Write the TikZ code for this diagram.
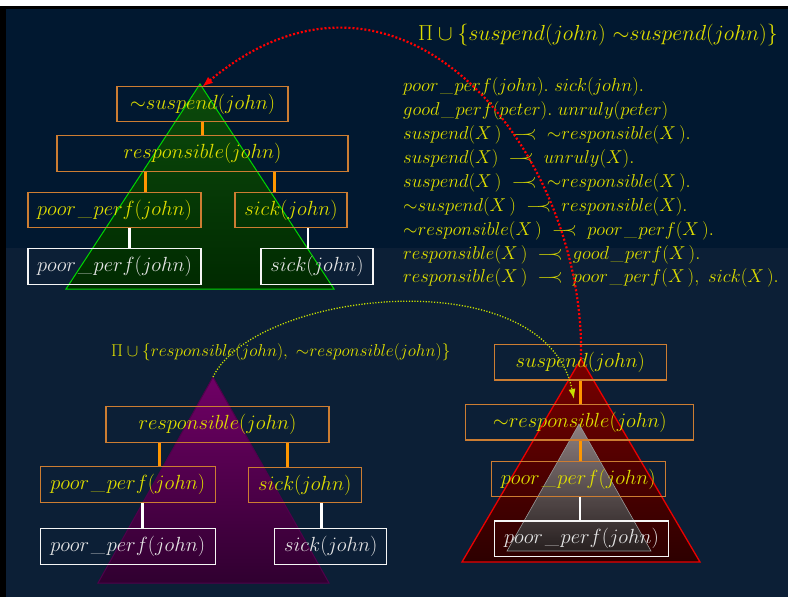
\RequirePackage{fix-cm}
\documentclass[tikz,border=0pt]{standalone}
\usetikzlibrary{arrows.meta}

\definecolor{bgtop}{RGB}{1,24,48}
\definecolor{bgbot}{RGB}{12,31,54}
\definecolor{txtyellow}{RGB}{222,222,0}
\definecolor{boxorange}{RGB}{205,125,50}
\definecolor{linkorange}{RGB}{255,150,0}
\definecolor{txtwhite}{RGB}{228,228,228}
\definecolor{arcgreen}{RGB}{200,225,0}

\newcommand{\defrule}{\;\mathrel{-\!\!\!\prec}\;}
\newcommand{\litneg}{{\sim}}
\newcommand{\usc}{\mkern1.5mu\_\mkern1.5mu}

\begin{document}
\begin{tikzpicture}[x=1pt,y=-1pt,
  argbox/.style={draw=boxorange, line width=1.2pt, text=txtyellow, inner sep=0pt,
    minimum height=35.5pt, font=\fontsize{20.5}{24}\selectfont},
  litbox/.style={draw=white!92!gray, line width=1.2pt, text=txtwhite, inner sep=0pt,
    minimum height=35.5pt, font=\fontsize{20.5}{24}\selectfont},
  supp/.style={linkorange, line width=3pt},
  lit/.style={white, line width=2.5pt},
  ruleline/.style={anchor=base west, inner sep=0pt, text=txtyellow,
    font=\fontsize{18.6}{22}\selectfont},
  defeat/.style={dash pattern=on 2pt off 2pt, line width=2.2pt}]

% page and background bands
\useasboundingbox (0,0) rectangle (788,597);
\fill[white] (0,0) rectangle (788,597);
\fill[black] (0,6) rectangle (788,597);
\fill[bgtop] (6,9) rectangle (788,248);
\fill[bgbot] (6,248) rectangle (788,597);

% apexes of the argument triangles
\coordinate (gapex) at (200,84);
\coordinate (papex) at (213,377);
\coordinate (rapex) at (581,359);
\coordinate (hit) at (574,399);

% argument triangles
\path[draw={rgb,255:red,0;green,215;blue,0}, line width=1pt,
  top color={rgb,255:red,12;green,74;blue,12}, bottom color={rgb,255:red,0;green,42;blue,0}]
  (gapex) -- (66,289) -- (334,289) -- cycle;
\path[draw={rgb,255:red,80;green,0;blue,75}, line width=1pt,
  top color={rgb,255:red,112;green,0;blue,102}, bottom color={rgb,255:red,48;green,0;blue,48}]
  (papex) -- (98,583) -- (329,583) -- cycle;
\path[draw={rgb,255:red,235;green,0;blue,0}, line width=1.3pt,
  top color={rgb,255:red,120;green,0;blue,0}, bottom color={rgb,255:red,45;green,0;blue,0}]
  (rapex) -- (462,562) -- (700,562) -- cycle;
\path[draw=gray!80, line width=0.6pt, fill opacity=0.85,
  top color={rgb,255:red,150;green,150;blue,150}, bottom color={rgb,255:red,38;green,38;blue,38}]
  (579,424) -- (507,551) -- (651,551) -- cycle;

% top-left argument
\node[argbox, minimum width=171pt] (s1) at (202.5,104) {$\litneg suspend(john)$};
\node[argbox, minimum width=291pt] (r1) at (202.5,153.5) {$responsible(john)$};
\node[argbox, minimum width=173pt] (p1) at (114.5,210) {$poor\usc perf(john)$};
\node[argbox, minimum width=112pt] (k1) at (291,210) {$sick(john)$};
\node[litbox, minimum width=173pt] (pw1) at (114.5,266.5) {$poor\usc perf(john)$};
\node[litbox, minimum width=112pt] (kw1) at (317,266.5) {$sick(john)$};

\draw[supp] (s1.south) -- (r1.north);
\draw[supp] ([xshift=31pt]p1.north) -- ([xshift=31pt]p1.north |- r1.south);
\draw[supp] ([xshift=-17pt]k1.north) -- ([xshift=-17pt]k1.north |- r1.south);
\draw[lit] ([xshift=15pt]p1.south) -- ([xshift=15pt]p1.south |- pw1.north);
\draw[lit] ([xshift=17pt]k1.south) -- ([xshift=17pt]k1.south |- kw1.north);

% bottom-left argument
\node[text=txtyellow, anchor=base west, inner sep=0pt, font=\fontsize{17.2}{20}\selectfont]
  (lbl) at (111,356) {$\Pi\cup\{responsible(john),\ \litneg responsible(john)\}$};
\node[argbox, minimum width=223pt] (r2) at (217.5,424.5) {$responsible(john)$};
\node[argbox, minimum width=175pt] (p2) at (127.7,484.5) {$poor\usc perf(john)$};
\node[argbox, minimum width=113pt] (k2) at (304.7,485) {$sick(john)$};
\node[litbox, minimum width=175pt] (pw2) at (127.7,546.5) {$poor\usc perf(john)$};
\node[litbox, minimum width=112pt] (kw2) at (330.8,546.5) {$sick(john)$};

\draw[supp] ([xshift=31.3pt]p2.north) -- ([xshift=31.3pt]p2.north |- r2.south);
\draw[supp] ([xshift=-17.7pt]k2.north) -- ([xshift=-17.7pt]k2.north |- r2.south);
\draw[lit] ([xshift=15pt]p2.south) -- ([xshift=15pt]p2.south |- pw2.north);
\draw[lit] ([xshift=17pt]k2.south) -- ([xshift=17pt]k2.south |- kw2.north);

% bottom-right argument
\node[argbox, minimum width=172pt] (sb) at (580.3,362.2) {$suspend(john)$};
\node[argbox, minimum width=228pt] (nr) at (579.8,422.2) {$\litneg responsible(john)$};
\node[argbox, minimum width=174pt] (pb) at (578.3,479) {$poor\usc perf(john)$};
\node[litbox, minimum width=174pt] (pw3) at (581.5,538.8) {$poor\usc perf(john)$};

\draw[supp] (sb.south) -- (sb.south |- nr.north);
\draw[supp] ([xshift=0.2pt]nr.south) -- ([xshift=0.2pt]nr.south |- pb.north);
\draw[lit] ([xshift=1.7pt]pb.south) -- ([xshift=1.7pt]pb.south |- pw3.north);

% program
\node[anchor=base west, inner sep=0pt, text=txtyellow, font=\fontsize{21.8}{26}\selectfont]
  (title) at (418,40) {$\Pi\cup\{suspend(john)\ \litneg suspend(john)\}$};
\node[ruleline] (l1) at (403,91.7) {$poor\usc perf(john).\ sick(john).$};
\node[ruleline] (l2) at (403,115.6) {$good\usc perf(peter).\ unruly(peter)$};
\node[ruleline] (l3) at (403,139.5) {$suspend(X\,)\defrule\litneg responsible(X\,).$};
\node[ruleline] (l4) at (403,163.4) {$suspend(X)\defrule unruly(X).$};
\node[ruleline] (l5) at (403,187.3) {$suspend(X\,)\defrule\litneg responsible(X\,).$};
\node[ruleline] (l6) at (403,211.2) {$\litneg suspend(X\,)\defrule responsible(X).$};
\node[ruleline] (l7) at (403,235.1) {$\litneg responsible(X\,)\defrule poor\usc perf(X\,).$};
\node[ruleline] (l8) at (403,259.0) {$responsible(X\,)\defrule good\usc perf(X\,).$};
\node[ruleline] (l9) at (403,282.9) {$responsible(X\,)\defrule poor\usc perf(X\,),\ sick(X\,).$};

% attack arcs
\draw[red, defeat, -{Latex[length=11pt,width=8pt]}]
  (rapex) .. controls (586,150) and (400,-78) .. ([shift={(2pt,-3pt)}]gapex);
\draw[arcgreen, dash pattern=on 1.2pt off 1.6pt, line width=1.3pt, -{Latex[length=10pt,width=7pt]}]
  (papex) .. controls (255,290) and (545,258) .. (hit);
\end{tikzpicture}
\end{document}
